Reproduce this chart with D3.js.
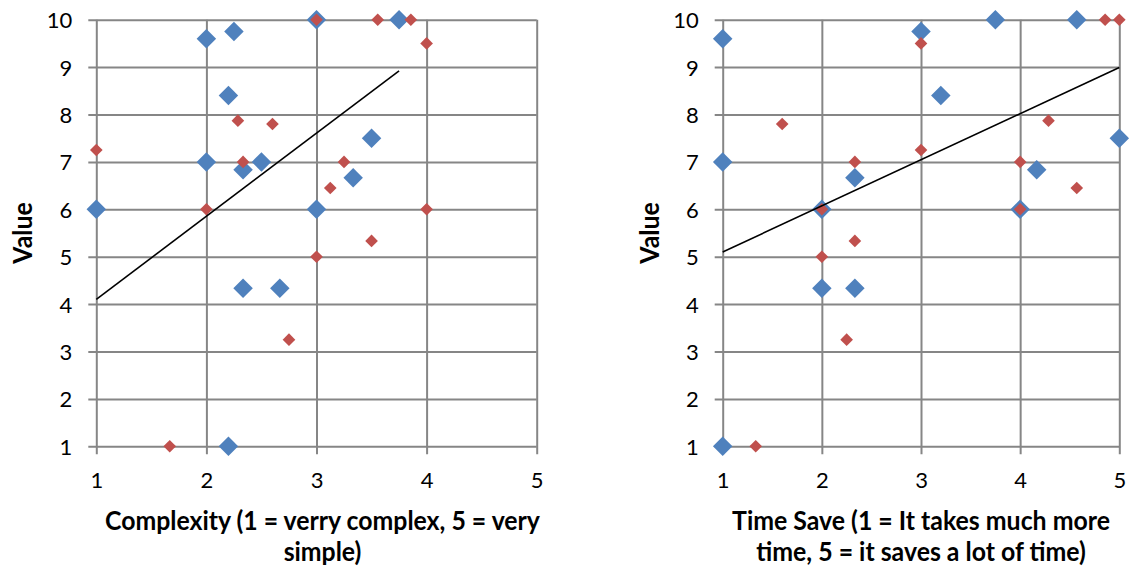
<!DOCTYPE html>
<html><head><meta charset="utf-8">
<script src="https://cdn.jsdelivr.net/npm/d3@7"></script>
<style>
body{margin:0;background:#fff}
svg{display:block}
text{font-family:Lato, "Open Sans", sans-serif;fill:#000}
</style>
</head><body>
<svg id="chart" width="1131" height="570"></svg>
<script>
// ---------- data ----------
const xTicks = [1, 2, 3, 4, 5];
const yTicks = [1, 2, 3, 4, 5, 6, 7, 8, 9, 10];

const leftTitle = ["Complexity (1 = verry complex, 5 = very", "simple)"];
const rightTitle = ["Time Save (1 = It takes much more", "time, 5 = it saves a lot of time)"];
const yTitle = "Value";

const leftBlueX = [1, 2, 2, 2.25, 2.2, 2.333, 2.5, 3, 3, 3.75, 3.5, 3.333, 2.333, 2.667, 2.2];
const leftBlueY = [6, 7, 9.6, 9.75, 8.4, 6.833, 7, 10, 6, 10, 7.5, 6.667, 4.333, 4.333, 1];
const leftRedX = [1, 2, 2.286, 2.6, 2.333, 3, 3.556, 3.857, 4, 3.25, 3.125, 4, 3.5, 3, 2.75, 1.667];
const leftRedY = [7.25, 6, 7.87, 7.8, 7, 10, 10, 10, 9.5, 7, 6.45, 6, 5.333, 5, 3.25, 1];
const leftTrendX = [1, 3.75];
const leftTrendY = [4.10, 8.92];

const rightBlueX = [1, 1, 2, 2.333, 3, 3.75, 4.571, 3.2, 5, 4.167, 4, 2, 2.333, 1];
const rightBlueY = [9.6, 7, 6, 6.667, 9.75, 10, 10, 8.4, 7.5, 6.833, 6, 4.333, 4.333, 1];
const rightRedX = [1.6, 2, 2.333, 3, 3, 4, 4.286, 4.571, 4, 4.857, 5, 2, 2.333, 2.25, 1.333];
const rightRedY = [7.8, 6, 7, 9.5, 7.25, 7, 7.87, 6.45, 6, 10, 10, 5, 5.333, 3.25, 1];
const rightTrendX = [1, 5];
const rightTrendY = [5.10, 8.99];

// ---------- layout ----------
const svg = d3.select("#chart");
const plotTop = 19.7, plotBottom = 446.3, tickLen = 8;
const gridColor = "#868686";
const blue = "#4F81BD", red = "#C0504D";
const titleSize = 26;

function zip(xs, ys) { return xs.map((x, i) => [x, ys[i]]); }

function drawChart(cfg) {
  const x = d3.scaleLinear().domain([1, 5]).range([cfg.x0, cfg.x1]);
  const y = d3.scaleLinear().domain([1, 10]).range([plotBottom, plotTop]);
  const g = svg.append("g");

  const ya = g.append("g")
    .attr("transform", `translate(${cfg.x0 - tickLen},0)`)
    .call(d3.axisLeft(y).tickValues(yTicks).tickFormat(d3.format("d"))
      .tickSizeInner(-(cfg.x1 - cfg.x0 + tickLen)).tickSizeOuter(0).tickPadding(16));
  ya.select(".domain").remove();
  ya.selectAll(".tick line").attr("stroke", gridColor).attr("stroke-width", 2);
  ya.selectAll(".tick text").attr("font-size", 22).attr("font-family", "Lato").attr("dy", "0.36em");

  const xa = g.append("g")
    .attr("transform", `translate(0,${plotBottom + tickLen})`)
    .call(d3.axisBottom(x).tickValues(xTicks).tickFormat(d3.format("d"))
      .tickSizeInner(-(plotBottom - plotTop + tickLen)).tickSizeOuter(0).tickPadding(18));
  xa.select(".domain").remove();
  xa.selectAll(".tick line").attr("stroke", gridColor).attr("stroke-width", 2);
  xa.selectAll(".tick text").attr("font-size", 22).attr("font-family", "Lato");

  const diamond = (size) => d3.symbol().type(d3.symbolSquare).size(size)();

  g.append("g").selectAll("path").data(zip(cfg.bx, cfg.by)).join("path")
    .attr("d", diamond(190))
    .attr("transform", d => `translate(${x(d[0])},${y(d[1])}) rotate(45)`)
    .attr("fill", blue);

  g.append("g").selectAll("path").data(zip(cfg.rx, cfg.ry)).join("path")
    .attr("d", diamond(80))
    .attr("transform", d => `translate(${x(d[0])},${y(d[1])}) rotate(45)`)
    .attr("fill", red);

  g.append("path")
    .datum(zip(cfg.tx, cfg.ty))
    .attr("d", d3.line().x(d => x(d[0])).y(d => y(d[1])))
    .attr("fill", "none").attr("stroke", "#000").attr("stroke-width", 1.6);

  const cx = (cfg.x0 + cfg.x1) / 2 + cfg.titleShift;
  const tg = g.append("g").attr("transform", `translate(${cx},0)`);
  const t = tg.append("text").attr("text-anchor", "middle").attr("font-weight", "bold").attr("font-size", titleSize);
  cfg.title.forEach((line, i) => {
    t.append("tspan").attr("x", 0).attr("y", 530 + i * 31.5).text(line);
  });
  const w = t.select("tspan").node().getComputedTextLength();
  const sx = Math.min(1, cfg.titleWidth / w);
  t.attr("transform", `scale(${sx},1)`);

  g.append("text")
    .attr("transform", `translate(${cfg.x0 - 64},${(plotTop + plotBottom) / 2}) rotate(-90) scale(${sx},1)`)
    .attr("text-anchor", "middle").attr("font-weight", "bold").attr("font-size", titleSize)
    .text(yTitle);
}

drawChart({x0: 96.3, x1: 536.7, bx: leftBlueX, by: leftBlueY, rx: leftRedX, ry: leftRedY,
  tx: leftTrendX, ty: leftTrendY, title: leftTitle, titleWidth: 435, titleShift: 6});
drawChart({x0: 722.7, x1: 1119.3, bx: rightBlueX, by: rightBlueY, rx: rightRedX, ry: rightRedY,
  tx: rightTrendX, ty: rightTrendY, title: rightTitle, titleWidth: 378, titleShift: 0});
</script>
</body></html>
